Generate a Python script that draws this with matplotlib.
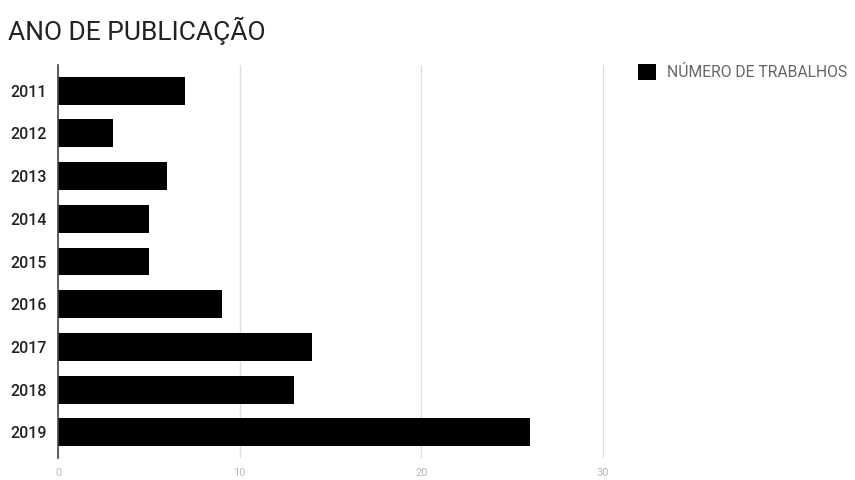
import matplotlib.pyplot as plt
from matplotlib.patches import Patch

plt.rcParams['font.family'] = ['Roboto', 'DejaVu Sans']

# dados
anos = ['2011', '2012', '2013', '2014', '2015', '2016', '2017', '2018', '2019']
trabalhos = [7, 3, 6, 5, 5, 9, 14, 13, 26]

fig = plt.figure(figsize=(8.55, 4.8), dpi=100)
ax = fig.add_axes([58/855, 1-458/480, 546/855, (458-65)/480])

ax.barh(range(len(anos)), trabalhos, height=0.65, color='black', zorder=3)
ax.set_yticks(range(len(anos)))
ax.set_yticklabels(anos, fontsize=11.5, color='#222222', fontweight='medium')
ax.set_ylim(len(anos) - 0.4, -0.6)

ax.set_xlim(0, 30.05)
ax.set_xticks([0, 10, 20, 30])
ax.tick_params(axis='x', length=0, labelsize=8, labelcolor='#bbbbbb', pad=7)
ax.tick_params(axis='y', length=0, pad=8)
ax.grid(axis='x', color='#dddddd', linewidth=1, zorder=0)

for s in ['top', 'right', 'bottom']:
    ax.spines[s].set_visible(False)
ax.spines['left'].set_color('#444444')
ax.spines['left'].set_linewidth(1.2)
ax.spines['left'].set_zorder(4)

fig.text(8/855, 1-31/480, 'ANO DE PUBLICAÇÃO', fontsize=19, color='#222222', va='center')

leg = fig.legend(handles=[Patch(facecolor='black', label='NÚMERO DE TRABALHOS')],
                 loc='center left', bbox_to_anchor=(624/855, 1-72/480), frameon=False,
                 fontsize=11.3, handlelength=1.15, handleheight=1.15, handletextpad=0.7)
for t in leg.get_texts():
    t.set_color('#666666')

fig.savefig('out.png', dpi=100)
